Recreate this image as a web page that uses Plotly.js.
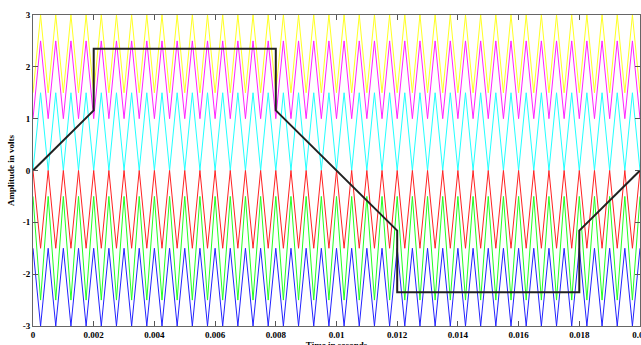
<!DOCTYPE html>
<html>
<head>
<meta charset="utf-8">
<script src="https://cdn.plot.ly/plotly-3.0.1.min.js"></script>
<style>
html,body{margin:0;padding:0;overflow:hidden;background:#fff;width:641px;height:345px;}
#chart{width:660px;height:352px;}
</style>
</head>
<body>
<div id="chart"></div>
<script>
// Carrier vertex times (s)
const carrierTime = [0,0.00025,0.0005,0.00075,0.001,0.00125,0.0015,0.00175,0.002,0.00225,
0.0025,0.00275,0.003,0.00325,0.0035,0.00375,0.004,0.00425,0.0045,0.00475,
0.005,0.00525,0.0055,0.00575,0.006,0.00625,0.0065,0.00675,0.007,0.00725,
0.0075,0.00775,0.008,0.00825,0.0085,0.00875,0.009,0.00925,0.0095,0.00975,
0.01,0.01025,0.0105,0.01075,0.011,0.01125,0.0115,0.01175,0.012,0.01225,
0.0125,0.01275,0.013,0.01325,0.0135,0.01375,0.014,0.01425,0.0145,0.01475,
0.015,0.01525,0.0155,0.01575,0.016,0.01625,0.0165,0.01675,0.017,0.01725,
0.0175,0.01775,0.018,0.01825,0.0185,0.01875,0.019,0.01925,0.0195,0.01975,0.02];

const yellowCarrier = [1.5,3,1.5,3,1.5,3,1.5,3,1.5,3,1.5,3,1.5,3,1.5,3,1.5,3,1.5,3,
1.5,3,1.5,3,1.5,3,1.5,3,1.5,3,1.5,3,1.5,3,1.5,3,1.5,3,1.5,3,
1.5,3,1.5,3,1.5,3,1.5,3,1.5,3,1.5,3,1.5,3,1.5,3,1.5,3,1.5,3,
1.5,3,1.5,3,1.5,3,1.5,3,1.5,3,1.5,3,1.5,3,1.5,3,1.5,3,1.5,3,1.5];

const magentaCarrier = [1,2.5,1,2.5,1,2.5,1,2.5,1,2.5,1,2.5,1,2.5,1,2.5,1,2.5,1,2.5,
1,2.5,1,2.5,1,2.5,1,2.5,1,2.5,1,2.5,1,2.5,1,2.5,1,2.5,1,2.5,
1,2.5,1,2.5,1,2.5,1,2.5,1,2.5,1,2.5,1,2.5,1,2.5,1,2.5,1,2.5,
1,2.5,1,2.5,1,2.5,1,2.5,1,2.5,1,2.5,1,2.5,1,2.5,1,2.5,1,2.5,1];

const cyanCarrier = [0,1.5,0,1.5,0,1.5,0,1.5,0,1.5,0,1.5,0,1.5,0,1.5,0,1.5,0,1.5,
0,1.5,0,1.5,0,1.5,0,1.5,0,1.5,0,1.5,0,1.5,0,1.5,0,1.5,0,1.5,
0,1.5,0,1.5,0,1.5,0,1.5,0,1.5,0,1.5,0,1.5,0,1.5,0,1.5,0,1.5,
0,1.5,0,1.5,0,1.5,0,1.5,0,1.5,0,1.5,0,1.5,0,1.5,0,1.5,0,1.5,0];

const redCarrier = [0,-1.5,0,-1.5,0,-1.5,0,-1.5,0,-1.5,0,-1.5,0,-1.5,0,-1.5,0,-1.5,0,-1.5,
0,-1.5,0,-1.5,0,-1.5,0,-1.5,0,-1.5,0,-1.5,0,-1.5,0,-1.5,0,-1.5,0,-1.5,
0,-1.5,0,-1.5,0,-1.5,0,-1.5,0,-1.5,0,-1.5,0,-1.5,0,-1.5,0,-1.5,0,-1.5,
0,-1.5,0,-1.5,0,-1.5,0,-1.5,0,-1.5,0,-1.5,0,-1.5,0,-1.5,0,-1.5,0,-1.5,0];

const greenCarrier = [-0.5,-2.5,-0.5,-2.5,-0.5,-2.5,-0.5,-2.5,-0.5,-2.5,-0.5,-2.5,-0.5,-2.5,-0.5,-2.5,-0.5,-2.5,-0.5,-2.5,
-0.5,-2.5,-0.5,-2.5,-0.5,-2.5,-0.5,-2.5,-0.5,-2.5,-0.5,-2.5,-0.5,-2.5,-0.5,-2.5,-0.5,-2.5,-0.5,-2.5,
-0.5,-2.5,-0.5,-2.5,-0.5,-2.5,-0.5,-2.5,-0.5,-2.5,-0.5,-2.5,-0.5,-2.5,-0.5,-2.5,-0.5,-2.5,-0.5,-2.5,
-0.5,-2.5,-0.5,-2.5,-0.5,-2.5,-0.5,-2.5,-0.5,-2.5,-0.5,-2.5,-0.5,-2.5,-0.5,-2.5,-0.5,-2.5,-0.5,-2.5,-0.5];

const blueCarrier = [-1.5,-3,-1.5,-3,-1.5,-3,-1.5,-3,-1.5,-3,-1.5,-3,-1.5,-3,-1.5,-3,-1.5,-3,-1.5,-3,
-1.5,-3,-1.5,-3,-1.5,-3,-1.5,-3,-1.5,-3,-1.5,-3,-1.5,-3,-1.5,-3,-1.5,-3,-1.5,-3,
-1.5,-3,-1.5,-3,-1.5,-3,-1.5,-3,-1.5,-3,-1.5,-3,-1.5,-3,-1.5,-3,-1.5,-3,-1.5,-3,
-1.5,-3,-1.5,-3,-1.5,-3,-1.5,-3,-1.5,-3,-1.5,-3,-1.5,-3,-1.5,-3,-1.5,-3,-1.5,-3,-1.5];

// Reference (modulating) signal
const refTime  = [0, 0.002, 0.002, 0.008, 0.008, 0.012, 0.012, 0.018, 0.018, 0.02];
const refValue = [0, 1.16, 2.35, 2.35, 1.16, -1.16, -2.35, -2.35, -1.16, 0];

const xTickVals = [0,0.002,0.004,0.006,0.008,0.01,0.012,0.014,0.016,0.018,0.02];
const xTickText = ['0','0.002','0.004','0.006','0.008','0.01','0.012','0.014','0.016','0.018','0.02'];
const yTickVals = [-3,-2,-1,0,1,2,3];
const yTickText = ['-3','-2','-1','0','1','2','3'];

const carriers = [
  {y: yellowCarrier, color: '#ffff22'},
  {y: magentaCarrier, color: '#ff22ff'},
  {y: cyanCarrier, color: '#22ffff'},
  {y: redCarrier, color: '#ff2222'},
  {y: greenCarrier, color: '#22ff22'},
  {y: blueCarrier, color: '#2222ff'}
];

const traces = carriers.map(c => ({
  x: carrierTime, y: c.y, type: 'scatter', mode: 'lines',
  line: {color: c.color, width: 1}, hoverinfo: 'skip', showlegend: false
}));
traces.push({
  x: refTime, y: refValue, type: 'scatter', mode: 'lines',
  line: {color: '#222222', width: 2}, showlegend: false
});

const fnt = {family: '"Liberation Serif", "Times New Roman", serif', size: 9, color: '#000', weight: 'bold'};

const layout = {
  width: 660, height: 352,
  margin: {l: 33, r: 20, t: 15, b: 26},
  paper_bgcolor: '#fff', plot_bgcolor: '#fff',
  showlegend: false,
  xaxis: {
    range: [0, 0.02], tickvals: xTickVals, ticktext: xTickText,
    ticks: 'inside', ticklen: 5, tickcolor: '#555', tickwidth: 1,
    showline: true, linecolor: '#666', linewidth: 1, mirror: 'ticks',
    showgrid: false, zeroline: false, tickfont: fnt,
    title: {text: 'Time in seconds', font: fnt, standoff: 0}
  },
  yaxis: {
    range: [-3, 3], tickvals: yTickVals, ticktext: yTickText,
    ticks: 'inside', ticklen: 5, tickcolor: '#555', tickwidth: 1,
    showline: true, linecolor: '#666', linewidth: 1, mirror: 'ticks',
    showgrid: false, zeroline: false, tickfont: fnt,
    title: {text: 'Amplitude in volts', font: fnt, standoff: 6}
  }
};

Plotly.newPlot('chart', traces, layout, {staticPlot: true, displayModeBar: false});
</script>
</body>
</html>
